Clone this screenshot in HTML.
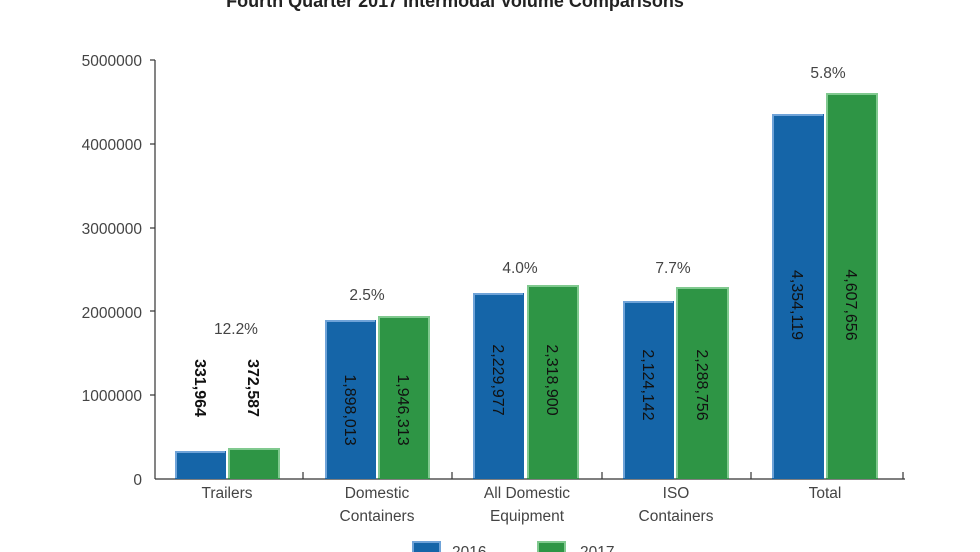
<!DOCTYPE html>
<html><head><meta charset="utf-8"><style>
html,body{margin:0;padding:0;background:#fff;width:980px;height:552px;overflow:hidden}
svg{display:block;font-family:"Liberation Sans",sans-serif}
</style></head><body>
<svg width="980" height="552" viewBox="0 0 980 552" xmlns="http://www.w3.org/2000/svg">
<text x="455" y="7" text-anchor="middle" font-size="18" font-weight="bold" fill="#222">Fourth Quarter 2017 Intermodal Volume Comparisons</text>
<g font-size="15.5" fill="#444" text-anchor="end">
<text x="142" y="66">5000000</text>
<text x="142" y="150">4000000</text>
<text x="142" y="234">3000000</text>
<text x="142" y="318">2000000</text>
<text x="142" y="401">1000000</text>
<text x="142" y="485">0</text>
</g>
<g stroke="#333" stroke-width="1.2">
<line x1="155" y1="60" x2="155" y2="479"/>
<line x1="150" y1="60" x2="155" y2="60"/>
<line x1="150" y1="144" x2="155" y2="144"/>
<line x1="150" y1="228" x2="155" y2="228"/>
<line x1="150" y1="311" x2="155" y2="311"/>
<line x1="150" y1="395" x2="155" y2="395"/>
<line x1="155" y1="479" x2="905" y2="479"/>
<line x1="303" y1="472" x2="303" y2="479"/>
<line x1="452" y1="472" x2="452" y2="479"/>
<line x1="602" y1="472" x2="602" y2="479"/>
<line x1="751" y1="472" x2="751" y2="479"/>
<line x1="903" y1="472" x2="903" y2="479"/>
</g>
<g fill="#1565a8">
<rect x="175" y="451" width="51" height="28"/>
<rect x="325" y="320" width="51" height="159"/>
<rect x="473" y="293" width="51" height="186"/>
<rect x="623" y="301" width="51" height="178"/>
<rect x="772" y="114" width="52" height="365"/>
</g>
<g fill="none" stroke="#6fa3d8" stroke-width="2">
<path d="M176 478V452H225"/><path d="M326 478V321H375"/><path d="M474 478V294H523"/><path d="M624 478V302H673"/><path d="M773 478V115H823"/>
</g>
<g fill="#2e9545">
<rect x="228" y="448" width="52" height="31"/>
<rect x="378" y="316" width="52" height="163"/>
<rect x="527" y="285" width="52" height="194"/>
<rect x="676" y="287" width="53" height="192"/>
<rect x="826" y="93" width="52" height="386"/>
</g>
<g fill="none" stroke="#80c98f" stroke-width="2">
<path d="M229 478V449H279V478"/><path d="M379 478V317H429V478"/><path d="M528 478V286H578V478"/><path d="M677 478V288H728V478"/><path d="M827 478V94H877V478"/>
</g>
<g font-size="16" fill="#111" text-anchor="middle">
<text transform="translate(195,388) rotate(90)" font-weight="bold">331,964</text>
<text transform="translate(248,388) rotate(90)" font-weight="bold">372,587</text>
<text transform="translate(345,410) rotate(90)">1,898,013</text>
<text transform="translate(398,410) rotate(90)">1,946,313</text>
<text transform="translate(493,380) rotate(90)">2,229,977</text>
<text transform="translate(547,380) rotate(90)">2,318,900</text>
<text transform="translate(643,385) rotate(90)">2,124,142</text>
<text transform="translate(697,385) rotate(90)">2,288,756</text>
<text transform="translate(792,305) rotate(90)">4,354,119</text>
<text transform="translate(846,305) rotate(90)">4,607,656</text>
</g>
<g font-size="15.5" fill="#444" text-anchor="middle">
<text x="236" y="334">12.2%</text>
<text x="367" y="300">2.5%</text>
<text x="520" y="273">4.0%</text>
<text x="673" y="273">7.7%</text>
<text x="828" y="78">5.8%</text>
<text x="227" y="498">Trailers</text>
<text x="377" y="498">Domestic</text>
<text x="377" y="521">Containers</text>
<text x="527" y="498">All Domestic</text>
<text x="527" y="521">Equipment</text>
<text x="676" y="498">ISO</text>
<text x="676" y="521">Containers</text>
<text x="825" y="498">Total</text>
</g>
<rect x="413" y="542" width="27" height="14" fill="#1565a8" stroke="#6fa3d8" stroke-width="2"/>
<rect x="538" y="542" width="27" height="14" fill="#2e9545" stroke="#80c98f" stroke-width="2"/>
<text x="452" y="557" font-size="15.5" fill="#444">2016</text>
<text x="580" y="557" font-size="15.5" fill="#444">2017</text>
</svg>
</body></html>
